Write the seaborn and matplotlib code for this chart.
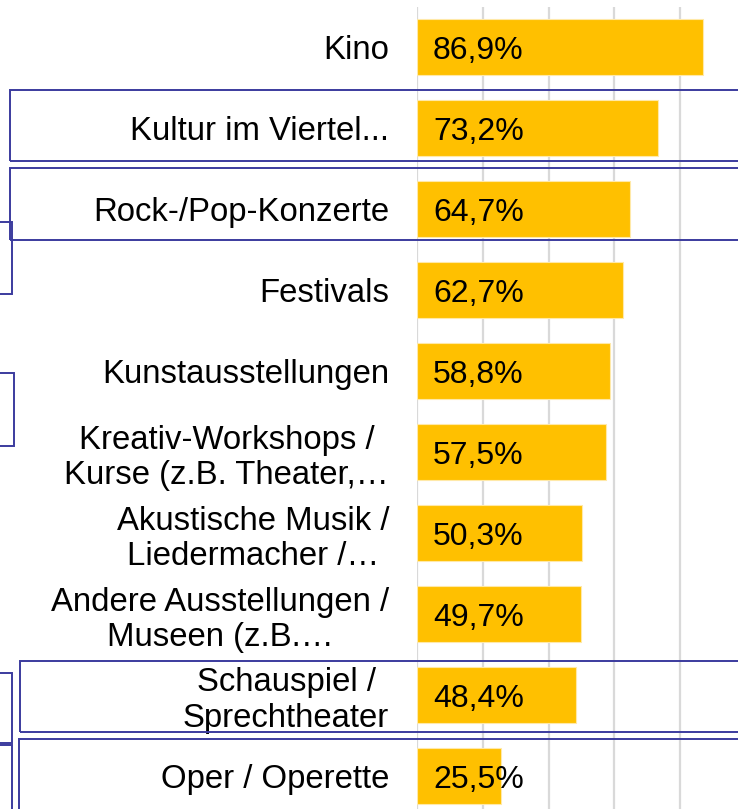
import matplotlib
matplotlib.use("Agg")
import matplotlib.pyplot as plt
from matplotlib.patches import Rectangle
import seaborn as sns
import pandas as pd

# data
categories = [
    "Kino",
    "Kultur im Viertel...",
    "Rock-/Pop-Konzerte",
    "Festivals",
    "Kunstausstellungen",
    "Kreativ-Workshops /\nKurse (z.B. Theater,…",
    "Akustische Musik /\nLiedermacher /…",
    "Andere Ausstellungen /\nMuseen (z.B.…",
    "Schauspiel /\nSprechtheater",
    "Oper / Operette",
]
values = [86.9, 73.2, 64.7, 62.7, 58.8, 57.5, 50.3, 49.7, 48.4, 25.5]
x_ticks = [0, 20, 40, 60, 80, 100]

BAR_COLOR = "#FFC000"
GRID_COLOR = "#d9d9d9"
BOX_COLOR = "#3b3b9e"
W, H = 738, 809

sns.set_style("white")
plt.rcParams["font.family"] = ["Liberation Sans", "DejaVu Sans"]

df = pd.DataFrame({"category": categories, "value": values})

fig = plt.figure(figsize=(W / 100, H / 100), dpi=100)
ax = fig.add_axes([417 / W, -7.5 / H, 329 / W, 810 / H])

sns.barplot(data=df, x="value", y="category", orient="h", color=BAR_COLOR,
            width=0.7, edgecolor="#ffe9a8", linewidth=0.8, saturation=1, ax=ax)

ax.set_xlim(0, 100)
ax.set_xticks(x_ticks)
ax.set_xticklabels([])
ax.xaxis.grid(True, color=GRID_COLOR, linewidth=1.6)
ax.set_axisbelow(True)
ax.set_xlabel("")
ax.set_ylabel("")
for s in ax.spines.values():
    s.set_visible(False)
ax.tick_params(axis="both", length=0)
ax.tick_params(axis="y", pad=20, labelsize=23.7, labelcolor="black")
for lbl in ax.get_yticklabels():
    lbl.set_multialignment("center")
    lbl.set_linespacing(1.2)

for i, v in enumerate(values):
    ax.annotate(f"{v:.1f}%".replace(".", ","), xy=(0, i), xytext=(11.5, -3),
                textcoords="offset points", va="center", ha="left",
                fontsize=23, color="black")

# outline boxes that sit over the chart (pixel boxes: left, top, right, bottom)
boxes = [
    (10, 90, 760, 161),
    (10, 168, 760, 240),
    (-20, 222, 12, 294),
    (-20, 373, 14, 446),
    (20, 661, 760, 732),
    (19, 739, 760, 830),
    (-20, 673, 12, 743),
    (-20, 745, 12, 830),
]
for x0, y0, x1, y1 in boxes:
    fig.patches.append(Rectangle((x0 / W, 1 - y1 / H), (x1 - x0) / W, (y1 - y0) / H,
                                 transform=fig.transFigure, fill=False,
                                 edgecolor=BOX_COLOR, linewidth=1.4, zorder=10))

fig.savefig("out.png", dpi=100)
